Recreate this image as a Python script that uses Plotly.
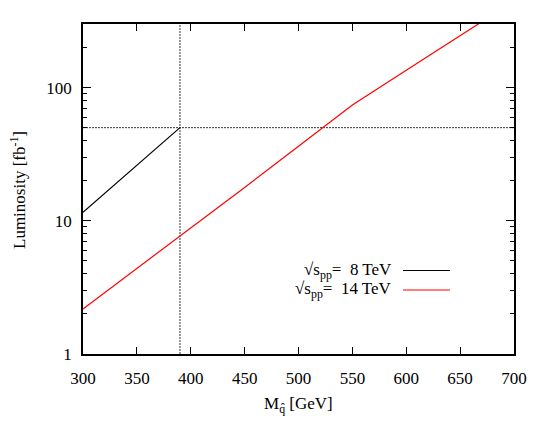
import plotly.graph_objects as go

# Data
mass_8tev = [300, 350, 390]
lumi_8tev = [11.6, 26.1, 50]

mass_14tev = [300, 350, 400, 450, 500, 550, 600, 650, 700]
lumi_14tev = [2.18, 4.37, 8.75, 17.8, 36.2, 74, 134.6, 245, 446]

ref_mass = 390
ref_lumi = 50

x_ticks = [300, 350, 400, 450, 500, 550, 600, 650, 700]
y_ticks = [1, 10, 100]
y_minor = [2, 3, 4, 5, 6, 7, 8, 9, 20, 30, 40, 50, 60, 70, 80, 90, 200, 300]

legend_labels = ["√s<sub>pp</sub>=  8 TeV", "√s<sub>pp</sub>=  14 TeV"]
colors = ["#000000", "#ff0000"]

FONT = "Liberation Serif, Times New Roman, serif"

# page body has an 8px default margin: compensate so the plot area lands at
# x 83..514, y 24..354 in the window
OFF = 8
W, H = 545 - OFF, 436 - OFF
L, R, T, B = 83 - OFF, 31, 24 - OFF, 82
pw, ph = W - L - R, H - T - B


def px_to_paper_x(px):
    return (px - OFF - L) / pw


def px_to_paper_y(py):
    return 1 - (py - OFF - T) / ph


fig = go.Figure()

# reference dotted lines
dot_style = dict(color="#333333", width=1, dash="2px,1px")
fig.add_trace(go.Scatter(x=[ref_mass, ref_mass], y=[1, 300], mode="lines",
                         line=dot_style, showlegend=False, hoverinfo="skip"))
fig.add_trace(go.Scatter(x=[300, 700], y=[ref_lumi, ref_lumi], mode="lines",
                         line=dot_style, showlegend=False, hoverinfo="skip"))

fig.add_trace(go.Scatter(x=mass_8tev, y=lumi_8tev, mode="lines",
                         line=dict(color=colors[0], width=1.2), showlegend=False))
fig.add_trace(go.Scatter(x=mass_14tev, y=lumi_14tev, mode="lines",
                         line=dict(color=colors[1], width=1.2), showlegend=False))

# custom legend (text right-aligned, sample line to the right)
legend_rows = [270.5, 290]
for lab, col, yy in zip(legend_labels, colors, legend_rows):
    fig.add_shape(type="line", xref="paper", yref="paper",
                  x0=px_to_paper_x(403), x1=px_to_paper_x(450),
                  y0=px_to_paper_y(yy), y1=px_to_paper_y(yy),
                  line=dict(color=col, width=1.2))
    fig.add_annotation(xref="paper", yref="paper",
                       x=px_to_paper_x(394), y=px_to_paper_y(yy),
                       xanchor="right", yanchor="middle", showarrow=False,
                       text=lab, font=dict(family=FONT, size=17, color="#000000"))

# axis titles
fig.add_annotation(xref="paper", yref="paper", x=px_to_paper_x(298), y=px_to_paper_y(405),
                   xanchor="center", yanchor="middle", showarrow=False,
                   text="M<sub>q̂</sub> [GeV]",
                   font=dict(family=FONT, size=17, color="#000000"))
fig.add_annotation(xref="paper", yref="paper", x=px_to_paper_x(18), y=px_to_paper_y(190),
                   xanchor="center", yanchor="middle", showarrow=False, textangle=-90,
                   text="Luminosity [fb<sup>-1</sup>]",
                   font=dict(family=FONT, size=17, color="#000000"))

axis_common = dict(showline=True, linecolor="#000000", linewidth=1.5, mirror="allticks",
                   ticks="inside", tickcolor="#000000", tickwidth=1.2,
                   showgrid=False, zeroline=False, automargin=False,
                   tickfont=dict(family=FONT, size=17, color="#000000"))

fig.update_xaxes(range=[300, 700], tickvals=x_ticks, ticklen=7,
                 ticklabelstandoff=8, **axis_common)
fig.update_yaxes(type="log", range=[0, 2.4771], tickvals=y_ticks, ticklen=8,
                 ticklabelstandoff=6,
                 minor=dict(tickvals=y_minor, ticks="inside", ticklen=4,
                            tickcolor="#000000", tickwidth=1.2, showgrid=False),
                 **axis_common)

fig.update_layout(width=W, height=H, margin=dict(l=L, r=R, t=T, b=B),
                  plot_bgcolor="#ffffff", paper_bgcolor="#ffffff",
                  showlegend=False)

fig.write_html("out.html")
